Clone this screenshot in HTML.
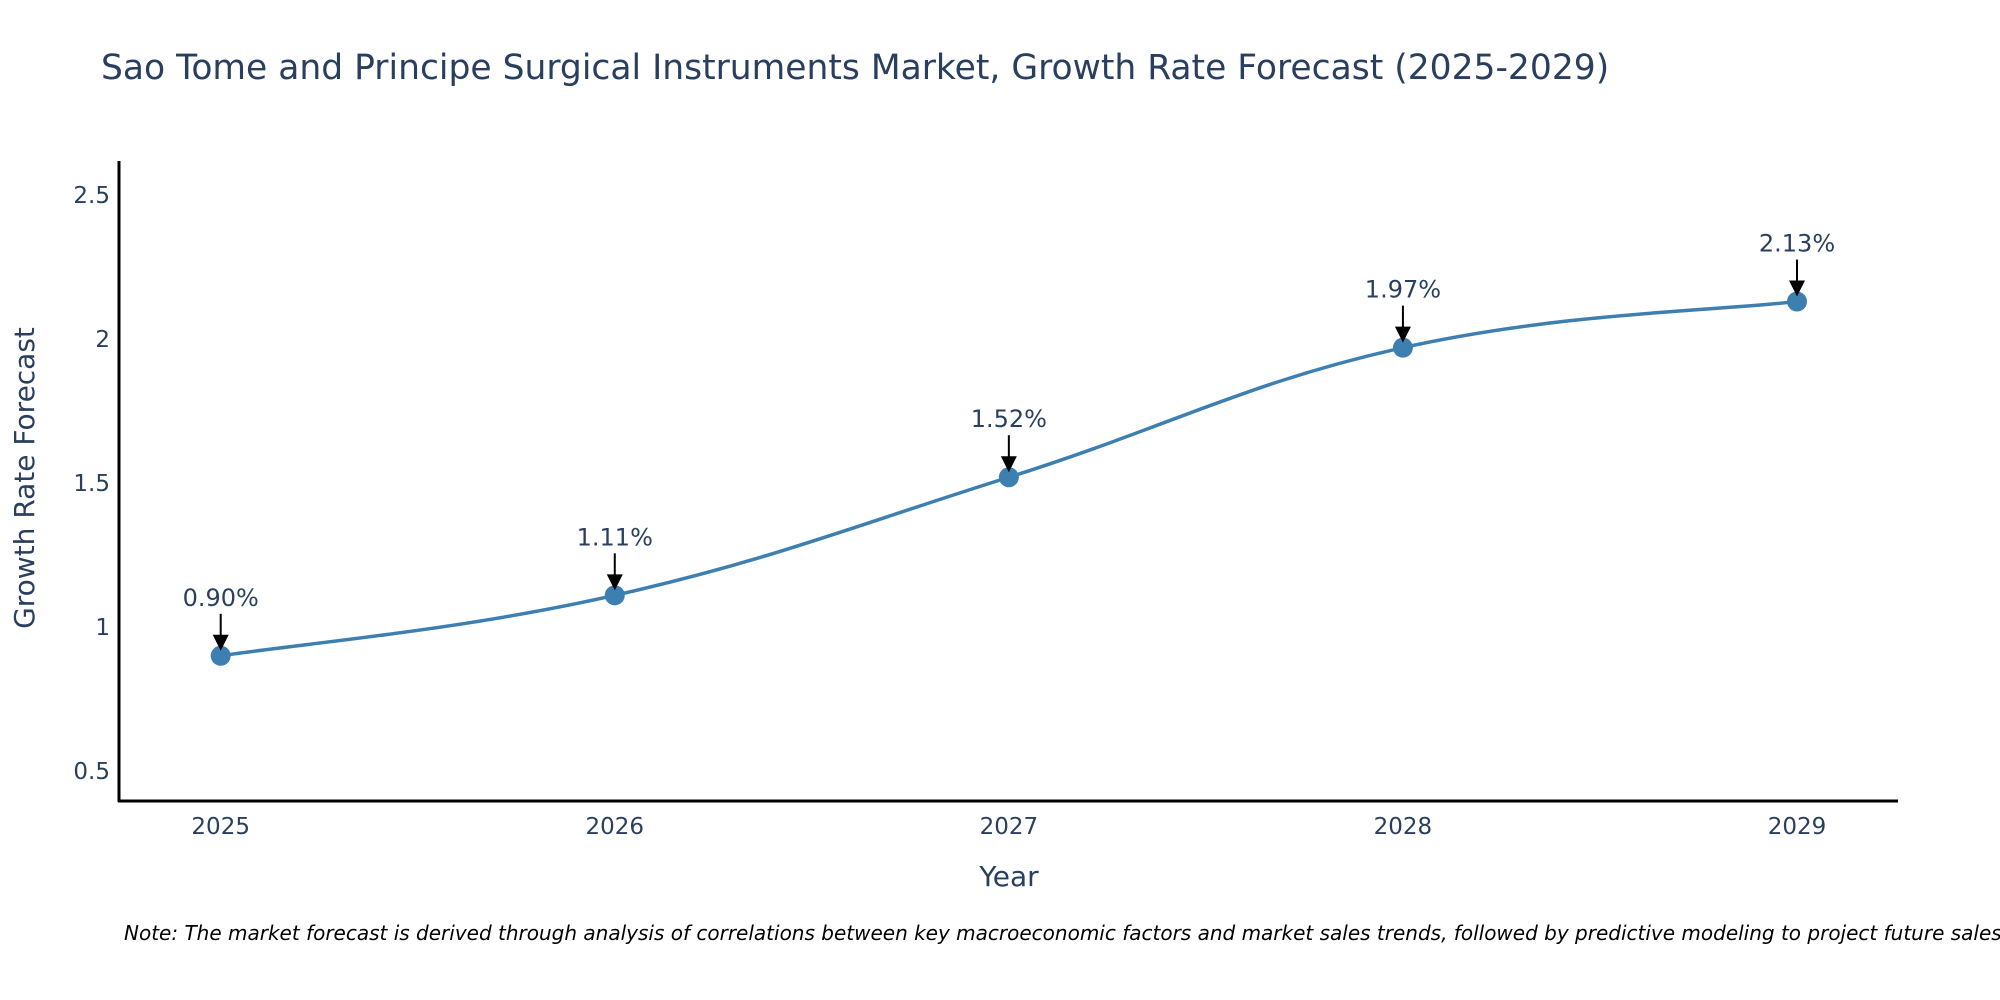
<!DOCTYPE html>
<html><head><meta charset="utf-8"><style>
body{margin:0;background:#fff;}
svg{display:block;font-family:"DejaVu Sans","Liberation Sans",sans-serif;}
</style></head><body>
<svg id="chart" width="2000" height="1000">
<text x="101" y="79" font-size="34.5" fill="#2a3f5f">Sao Tome and Principe Surgical Instruments Market, Growth Rate Forecast (2025-2029)</text>
<g id="yticks"></g><g id="xticks"></g>
<line x1="119" y1="161" x2="119" y2="802" stroke="#000" stroke-width="3"/>
<line x1="118" y1="801" x2="1898" y2="801" stroke="#000" stroke-width="3"/>
<path id="line" fill="none" stroke="#3d7fb0" stroke-width="3.5"/>
<g id="points"></g><g id="annots"></g>
<text x="1009" y="886" font-size="28" fill="#2a3f5f" text-anchor="middle">Year</text>
<text transform="translate(34,478) rotate(-90)" font-size="28" fill="#2a3f5f" text-anchor="middle">Growth Rate Forecast</text>
<text x="124" y="940" font-size="20" font-style="italic" fill="#000">Note: The market forecast is derived through analysis of correlations between key macroeconomic factors and market sales trends, followed by predictive modeling to project future sales.</text>
</svg>
<script>
const years=[2025,2026,2027,2028,2029];
const values=[0.90,1.11,1.52,1.97,2.13];
const labels=["0.90%","1.11%","1.52%","1.97%","2.13%"];
const yTicks=[0.5,1,1.5,2,2.5];
const NS="http://www.w3.org/2000/svg";
const xs=i=>220.7+(1797-220.7)*i/(years.length-1);
const ys=v=>627-(v-1)*288;
function mk(t,a,p){const e=document.createElementNS(NS,t);for(const k in a)e.setAttribute(k,a[k]);p.appendChild(e);return e;}
const yt=document.getElementById('yticks');
yTicks.forEach(v=>{const t=mk('text',{x:110,y:ys(v)+8,'font-size':23,fill:'#2a3f5f','text-anchor':'end'},yt);


t.textContent=String(v);});
const xt=document.getElementById('xticks');
years.forEach((y,i)=>{const t=mk('text',{x:xs(i),y:834,'font-size':23,fill:'#2a3f5f','text-anchor':'middle'},xt);


t.textContent=String(y);});
const P=values.map((v,i)=>[xs(i),ys(v)]);
let d=`M${P[0][0]},${P[0][1]}`;
for(let i=0;i<P.length-1;i++){const p0=P[i-1]||P[i],p1=P[i],p2=P[i+1],p3=P[i+2]||P[i+1];const s=0.2;
d+=` C${p1[0]+(p2[0]-p0[0])*s},${p1[1]+(p2[1]-p0[1])*s} ${p2[0]-(p3[0]-p1[0])*s},${p2[1]-(p3[1]-p1[1])*s} ${p2[0]},${p2[1]}`;}
document.getElementById('line').setAttribute('d',d);
const pg=document.getElementById('points'),ag=document.getElementById('annots');
P.forEach((p,i)=>{const c=mk('circle',{cx:p[0],cy:p[1],r:10,fill:'#3d7fb0'},pg);


const l=mk('line',{x1:p[0],y1:p[1]-42,x2:p[0],y2:p[1]-18,stroke:'#000','stroke-width':2},ag);


const h=mk('path',{d:`M${p[0]-8},${p[1]-21} L${p[0]+8},${p[1]-21} L${p[0]},${p[1]-5} Z`,fill:'#000'},ag);


const t=mk('text',{x:p[0],y:p[1]-50,'font-size':24,fill:'#2a3f5f','text-anchor':'middle'},ag);


t.textContent=labels[i];});
</script>
</body></html>
